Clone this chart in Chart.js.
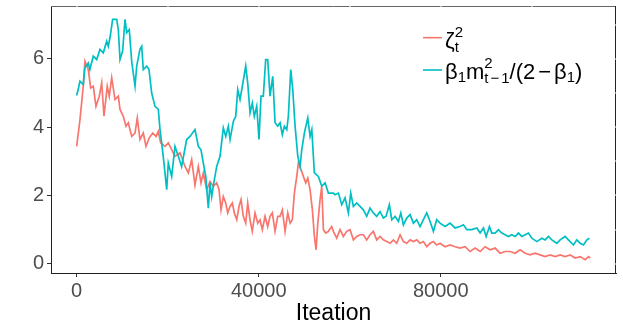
<!DOCTYPE html>
<html>
<head>
<meta charset="utf-8">
<script src="https://cdn.jsdelivr.net/npm/chart.js@4/dist/chart.umd.min.js"></script>
<style>
  html, body { margin: 0; padding: 0; background: #fff; }
  #wrap { width: 623px; height: 333px; }
</style>
</head>
<body>
<div id="wrap"><canvas id="c" width="623" height="333"></canvas></div>
<script>
// ---- data ----
const iterRed = [0,725,1450,1820,2550,3080,3650,4240,4970,5500,
  6000,6720,7160,7700,8420,9150,9520,10240,10840,11340,
  12090,12820,13320,13910,14640,15230,15960,16700,17430,17940,
  18460,19400,20130,20870,21600,22700,23800,24530,25270,26000,
  26730,27320,27830,28570,29300,30020,30770,31280,31720,32220,
  32750,33190,33700,34200,34640,35170,35670,36110,36620,37140,
  37580,38090,38590,39190,39780,40290,40790,41390,41970,42490,
  42990,43590,44180,44690,45190,45790,46380,46890,47390,47830,
  48360,48710,49300,49810,50330,50780,51280,51790,52230,52600,
  52980,53480,53850,54210,54730,55300,56030,56400,57140,57870,
  58600,59330,60070,60800,61530,62270,62990,63730,64460,65190,
  65920,66660,67390,68130,68860,69590,70320,71060,71790,72520,
  73260,73990,74720,75450,76180,76920,77650,78380,79110,79840,
  80940,82040,83140,84240,85340,86440,87540,88650,89740,90840,
  91940,93040,94140,95240,96340,97440,98540,99640,100740,101840,
  102930,104030,105130,106230,107330,108430,109530,110630,111730,112470,
  112840];
const zetaSq = [3.44,4.22,5.2,5.93,5.69,5.15,5.2,4.61,4.91,5.3,
  4.32,5.2,4.91,5.45,4.81,4.91,4.52,4.32,4.03,4.13,
  3.73,3.83,4.27,3.64,3.83,3.44,3.69,3.83,3.73,3.88,
  3.54,3.44,3.54,3.34,3.15,3.25,2.85,2.66,3.05,2.3,
  2.85,2.37,2.66,2.17,2.41,2.27,2.37,2.17,1.58,1.97,
  1.78,1.49,1.68,1.78,1.49,1.29,1.68,1.88,1.39,1.19,
  1.78,1.29,0.95,1.49,1.19,1.29,1.0,1.39,1.09,1.39,
  1.49,0.95,1.39,1.39,1.58,0.95,1.49,1.19,1.29,2.07,
  2.56,2.95,2.76,2.56,2.37,2.51,2.17,1.58,0.8,0.41,
  1.19,1.88,2.27,1.0,0.9,0.95,1.09,0.95,0.75,1.0,
  0.8,0.95,1.0,0.7,0.8,0.85,0.85,0.7,0.85,0.95,
  0.7,0.8,0.7,0.65,0.6,0.7,0.6,0.85,0.65,0.6,
  0.7,0.65,0.7,0.6,0.65,0.5,0.6,0.65,0.55,0.6,
  0.5,0.55,0.5,0.46,0.5,0.36,0.46,0.36,0.5,0.41,
  0.46,0.31,0.36,0.36,0.31,0.41,0.31,0.26,0.31,0.26,
  0.21,0.26,0.21,0.26,0.21,0.26,0.17,0.21,0.12,0.21,
  0.17];

const iterCyan = [0,400,725,1450,1800,2550,2900,3650,4400,5120,
  5850,6600,6950,7320,7900,8790,9150,9520,10100,10620,
  10990,11560,12090,12820,13190,13910,14290,14640,15390,15890,
  16480,17210,17940,18310,18680,19180,19780,20130,20870,21600,
  22330,23060,24160,24900,26000,26730,27320,27830,28360,28930,
  29300,29670,30240,30770,31500,32220,32750,33320,33700,34420,
  34950,35390,35890,36400,37140,37580,38090,38590,39030,39560,
  40060,40500,41010,41530,41970,42490,43080,43590,44180,44690,
  45190,45630,46160,46510,47040,47480,47990,48580,49080,49460,
  50030,50780,51280,51660,52230,53110,53850,54580,55300,56400,
  56770,57510,58240,58970,59700,60220,60800,61530,62270,62990,
  63730,64460,65190,65920,66660,67390,67980,68700,69230,69960,
  70690,71220,71790,72520,73260,73990,74720,75450,76180,76920,
  77650,78380,79110,79840,80940,82040,83140,84240,84970,85720,
  86820,87920,88650,89380,89970,90690,91220,91940,92670,93420,
  94140,94870,95610,96340,97060,97810,98540,99260,100010,101110,
  102210,102930,103660,104410,105500,106230,107330,108050,109150,109900,
  110630,111350,112100,112670];
const betaTerm = [4.93,5.15,5.35,5.25,5.74,5.88,5.69,6.08,5.98,6.28,
  6.18,6.52,6.37,6.62,7.16,7.16,6.86,5.98,6.23,7.16,
  6.77,6.86,5.93,5.2,5.79,6.28,6.37,5.69,5.79,5.69,
  5.0,4.61,4.52,3.93,3.54,2.95,2.17,2.95,2.56,3.44,
  3.15,2.85,3.64,3.73,3.93,3.44,3.34,2.95,2.56,1.63,
  2.37,1.97,2.46,2.85,3.15,3.98,3.73,4.03,3.64,4.17,
  4.32,5.1,4.81,5.2,5.79,5.3,4.42,4.71,4.32,4.61,
  3.64,4.91,4.91,5.98,5.98,4.91,5.49,4.13,4.03,4.13,
  3.78,4.03,3.93,4.32,5.69,5.1,4.03,3.15,2.85,3.34,
  3.83,4.27,3.73,3.93,2.66,2.56,2.27,2.37,2.07,2.07,
  2.02,2.07,1.73,1.93,1.49,2.07,1.68,1.78,1.68,1.58,
  1.39,1.63,1.49,1.39,1.53,1.34,1.39,1.73,1.29,1.39,
  1.24,1.49,1.14,1.34,1.44,1.19,1.29,1.09,1.29,1.49,
  1.24,0.95,1.29,1.19,1.09,1.19,1.05,1.09,1.14,1.0,
  1.0,1.05,0.9,1.05,0.8,1.09,0.9,0.9,1.0,0.9,
  0.85,0.8,0.85,0.8,0.9,0.8,0.85,0.9,0.75,0.65,
  0.75,0.7,0.8,0.7,0.6,0.7,0.8,0.7,0.55,0.7,
  0.6,0.55,0.7,0.75];

const xTicks = [0, 40000, 80000];
const xMinorGrid = [20000, 60000, 100000];
const yTicks = [0, 2, 4, 6];
const yMinorGrid = [1, 3, 5, 7];
const xTitle = "Iteation";
const seriesNames = ["zeta_t^2", "beta_1 m_{t-1}^2/(2-beta_1)"];
const colRed = "#F8766D";
const colCyan = "#00BFC4";

// ---- rendering ----
const FONT = "'Liberation Sans', Arial, Helvetica, sans-serif";

function drawSeq(ctx, x, base, tokens, draw) {
  let cx = x;
  for (const tk of tokens) {
    if (tk.gap !== undefined) { cx += tk.gap; continue; }
    if (tk.stack) {
      let w = 0;
      for (const seq of tk.stack) w = Math.max(w, drawSeq(ctx, cx, base, seq, draw));
      cx += w; continue;
    }
    ctx.font = tk.size + "px " + FONT;
    if (draw) ctx.fillText(tk.t, cx, base + (tk.dy || 0));
    cx += ctx.measureText(tk.t).width;
  }
  return cx - x;
}

const M = 22, S = 15;
const legendItems = [
  { color: colRed, keyY: 37.7, base: 47.5, tokens: [
      { t: "ζ", size: M },
      { stack: [[{ t: "2", size: S, dy: -11 }], [{ t: "t", size: S, dy: 4 }]] }
  ]},
  { color: colCyan, keyY: 70, base: 78.5, tokens: [
      { t: "β", size: M }, { t: "1", size: S, dy: 3 },
      { t: "m", size: M },
      { stack: [[{ t: "2", size: S, dy: -10.5 }],
                [{ t: "t", size: S, dy: 4 }, { gap: 2 }, { t: "−", size: S, dy: 4 }, { gap: 2 }, { t: "1", size: S, dy: 4 }]] },
      { t: "/", size: M }, { t: "(", size: M }, { t: "2", size: M },
      { gap: 3 }, { t: "−", size: M }, { gap: 3 },
      { t: "β", size: M }, { t: "1", size: S, dy: 3 }, { t: ")", size: M }
  ]}
];

const decor = {
  id: "decor",
  afterDatasetsDraw(chart) {
    const { ctx, chartArea: a, scales } = chart;
    ctx.save();
    ctx.lineWidth = 1;
    ctx.strokeStyle = "#666";
    ctx.beginPath(); ctx.moveTo(a.left, a.top + 0.5); ctx.lineTo(a.right, a.top + 0.5); ctx.stroke();
    ctx.strokeStyle = "#222";
    ctx.beginPath(); ctx.moveTo(a.right - 0.5, a.top); ctx.lineTo(a.right - 0.5, a.bottom); ctx.stroke();
    ctx.fillStyle = "#fff";
    for (const v of xTicks.concat(xMinorGrid)) {
      const px = scales.x.getPixelForValue(v);
      ctx.fillRect(Math.round(px) - 0.5, a.top - 0.5, 1, 2);
    }
    for (const v of yTicks.concat(yMinorGrid)) {
      const py = scales.y.getPixelForValue(v);
      ctx.fillRect(a.right - 1.5, Math.round(py) - 0.5, 2, 1);
    }
    ctx.textBaseline = "alphabetic";
    ctx.textAlign = "left";
    for (const it of legendItems) {
      ctx.strokeStyle = it.color;
      ctx.lineWidth = 1.6;
      ctx.beginPath(); ctx.moveTo(423, it.keyY); ctx.lineTo(442, it.keyY); ctx.stroke();
      ctx.fillStyle = "#000";
      drawSeq(ctx, 445, it.base, it.tokens, true);
    }
    ctx.restore();
  }
};

new Chart(document.getElementById("c"), {
  type: "line",
  data: {
    datasets: [
      { label: seriesNames[1], data: iterCyan.map((x, i) => ({ x, y: betaTerm[i] })),
        borderColor: colCyan, borderWidth: 1.7, pointRadius: 0, tension: 0, order: 0 },
      { label: seriesNames[0], data: iterRed.map((x, i) => ({ x, y: zetaSq[i] })),
        borderColor: colRed, borderWidth: 1.7, pointRadius: 0, tension: 0, order: 1 }
    ]
  },
  options: {
    responsive: false,
    animation: false,
    devicePixelRatio: 1,
    layout: { padding: { left: 0, top: 6, right: 7, bottom: 0 } },
    plugins: { legend: { display: false }, tooltip: { enabled: false } },
    scales: {
      x: {
        type: "linear", min: -5640, max: 118500,
        afterBuildTicks: s => { s.ticks = xTicks.map(v => ({ value: v })); },
        afterFit: s => { s.height = 60; s.paddingLeft = 0; s.paddingRight = 0; },
        ticks: { color: "#4D4D4D", font: { family: FONT, size: 20 }, padding: 2,
                 callback: v => String(v), maxRotation: 0, autoSkip: false },
        grid: { drawOnChartArea: false, drawTicks: true, tickLength: 4, tickColor: "#333" },
        border: { display: true, color: "#222", width: 1 },
        title: { display: true, text: xTitle, color: "#000", font: { family: FONT, size: 23 },
                 padding: { top: 0, bottom: 6 } }
      },
      y: {
        type: "linear", min: -0.27, max: 7.55,
        afterBuildTicks: s => { s.ticks = yTicks.map(v => ({ value: v })); },
        afterFit: s => { s.width = 51; s.paddingTop = 0; s.paddingBottom = 0; },
        ticks: { color: "#4D4D4D", font: { family: FONT, size: 20 }, padding: 3,
                 callback: v => String(v) },
        grid: { drawOnChartArea: false, drawTicks: true, tickLength: 4, tickColor: "#333" },
        border: { display: true, color: "#222", width: 1 }
      }
    }
  },
  plugins: [decor]
});
</script>
</body>
</html>
